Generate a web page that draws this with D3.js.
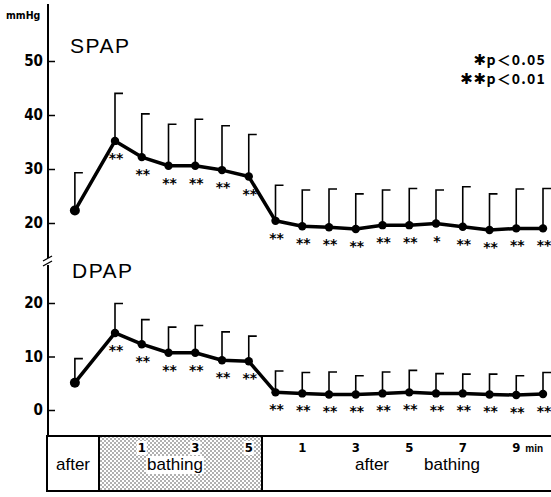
<!DOCTYPE html>
<html><head><meta charset="utf-8">
<script src="https://cdn.jsdelivr.net/npm/d3@7"></script>
<style>body{margin:0;background:#fff}svg{display:block}</style>
</head><body>
<script>
// ---- data ----
const slots = [-1.5, 0,1,2,3,4,5, 6,7,8,9,10,11,12,13,14,15,16];
const spapMean  = [22.3, 35.2,32.2,30.6,30.6,29.8,28.6, 20.4,19.4,19.2,18.9,19.6,19.6,19.9,19.3,18.7,19.0,19.0];
const spapUpper = [29.3, 44.0,40.2,38.3,39.2,38.0,36.4, 27.0,26.1,26.3,25.4,26.1,26.4,26.1,26.7,25.4,26.3,26.4];
const spapSig   = ["", "**","**","**","**","**","**", "**","**","**","**","**","**","*","**","**","**","**"];
const dpapMean  = [5.1, 14.4,12.3,10.7,10.7,9.3,9.1, 3.3,3.1,2.9,2.9,3.1,3.3,3.1,3.1,2.9,2.8,3.0];
const dpapUpper = [9.6, 19.9,16.9,15.5,15.8,14.6,13.8, 7.3,7.0,7.1,6.4,7.1,7.4,6.8,6.7,6.7,6.4,7.0];
const dpapSig   = ["", "**","**","**","**","**","**", "**","**","**","**","**","**","**","**","**","**","**"];
const spapTicks = [20,30,40,50];
const dpapTicks = [0,10,20];
const bathTicks = [1,3,5];
const afterTicks = [1,3,5,7,9];
const legendStars = ["✱","✱✱"];
const legendText = ["p＜0.05","p＜0.01"];

const W=551,H=497;
const svg=d3.select("body").append("svg").attr("width",W).attr("height",H);
const defs=svg.append("defs");
const pat=defs.append("pattern").attr("id","dots").attr("patternUnits","userSpaceOnUse").attr("width",4).attr("height",4);
pat.append("circle").attr("cx",1).attr("cy",1).attr("r",0.7).attr("fill","#222");
pat.append("circle").attr("cx",3).attr("cy",3).attr("r",0.7).attr("fill","#222");

const axX=48;
const x=d3.scaleLinear().domain([0,16]).range([115,543]);
const yS=d3.scaleLinear().domain([20,50]).range([223,61]);
const yD=d3.scaleLinear().domain([0,20]).range([410,303]);
const numFont='"DejaVu Sans Condensed","DejaVu Sans",sans-serif';
const txtFont='"Liberation Sans", Arial, sans-serif';

// axis line with break
svg.append("line").attr("x1",axX).attr("x2",axX).attr("y1",4).attr("y2",258).attr("stroke","#000").attr("stroke-width",2);
svg.append("line").attr("x1",axX).attr("x2",axX).attr("y1",265).attr("y2",436).attr("stroke","#000").attr("stroke-width",2);
svg.append("line").attr("x1",43).attr("y1",261).attr("x2",52).attr("y2",256).attr("stroke","#000").attr("stroke-width",1.3);
svg.append("line").attr("x1",43).attr("y1",266).attr("x2",52).attr("y2",261).attr("stroke","#000").attr("stroke-width",1.3);

function yAxis(scale,ticks){
  const g=svg.append("g").attr("transform",`translate(${axX},0)`)
    .call(d3.axisLeft(scale).tickValues(ticks).tickSize(-7).tickPadding(5).tickFormat(d3.format("d")));
  g.select(".domain").remove();
  g.selectAll(".tick line").attr("stroke","#000").attr("stroke-width",1.5);
  g.selectAll(".tick text").attr("font-family",numFont).attr("font-weight","bold").attr("font-size",15).attr("fill","#000");
}
yAxis(yS,spapTicks);
yAxis(yD,dpapTicks);

svg.append("text").attr("x",6).attr("y",19).text("mmHg").attr("font-family",numFont).attr("font-weight","bold").attr("font-size",10.5);
svg.append("text").attr("x",70).attr("y",53).text("SPAP").attr("font-family",txtFont).attr("font-size",21).attr("letter-spacing",1.5);
svg.append("text").attr("x",72).attr("y",278).text("DPAP").attr("font-family",txtFont).attr("font-size",21).attr("letter-spacing",1.5);

const leg=svg.selectAll(".leg").data(legendText).join("text")
  .attr("x",546).attr("y",(d,i)=>65+i*19).attr("text-anchor","end")
  .attr("font-family",'"Noto Sans CJK JP",sans-serif').attr("font-weight","bold").attr("font-size",14);
leg.append("tspan").attr("font-family","DejaVu Sans, sans-serif").attr("font-size",15).attr("letter-spacing",0.5).text((d,i)=>legendStars[i]);
leg.append("tspan").attr("letter-spacing",1.2).text(d=>d);

function series(mean,upper,sig,y){
  const g=svg.append("g");
  g.selectAll(".eb").data(slots).join("path")
    .attr("d",(s,i)=>`M${x(s)},${y(mean[i])}V${y(upper[i])}H${x(s)+8}`)
    .attr("fill","none").attr("stroke","#000").attr("stroke-width",1.6);
  const line=d3.line().x((s)=>x(s)).y((s,i)=>y(mean[i]));
  g.append("path").attr("d",line(slots)).attr("fill","none").attr("stroke","#000").attr("stroke-width",3.5).attr("stroke-linejoin","round");
  g.selectAll(".pt").data(slots).join("circle")
    .attr("cx",s=>x(s)).attr("cy",(s,i)=>y(mean[i])).attr("r",(s,i)=>i===0?5:4.2).attr("fill","#000");
  g.selectAll(".sig").data(slots).join("text")
    .attr("x",s=>x(s)+1).attr("y",(s,i)=>y(mean[i])+22).attr("text-anchor","middle")
    .attr("font-family","DejaVu Sans, sans-serif").attr("font-weight","bold").attr("font-size",14)
    .attr("fill","#000").text((s,i)=>sig[i]);
}
series(spapMean,spapUpper,spapSig,yS);
series(dpapMean,dpapUpper,dpapSig,yD);

// table
const tTop=436,tBot=491,divA=99,divB=262;
svg.append("rect").attr("x",divA).attr("y",tTop).attr("width",divB-divA).attr("height",tBot-tTop).attr("fill","url(#dots)");
const bg=svg.append("g");
svg.append("line").attr("x1",axX-2).attr("x2",W).attr("y1",tTop).attr("y2",tTop).attr("stroke","#000").attr("stroke-width",2);
svg.append("line").attr("x1",axX-2).attr("x2",W).attr("y1",tBot).attr("y2",tBot).attr("stroke","#000").attr("stroke-width",2);
[axX-1,divA,divB].forEach(v=>svg.append("line").attr("x1",v).attr("x2",v).attr("y1",tTop).attr("y2",tBot).attr("stroke","#000").attr("stroke-width",2));

function whiteBehind(sel){
  sel.each(function(){const b=this.getBBox();bg.append("rect").attr("x",b.x-1).attr("y",b.y+1).attr("width",b.width+2).attr("height",b.height-1).attr("fill","#fff");});
}
const bt=svg.append("text").attr("x",175).attr("y",470).attr("text-anchor","middle").attr("font-family",txtFont).attr("font-size",17).text("bathing");
whiteBehind(bt);
const bnum=svg.selectAll(".bt").data(bathTicks).join("text").attr("x",d=>x(d)).attr("y",452).attr("text-anchor","middle")
  .attr("font-family",numFont).attr("font-weight","bold").attr("font-size",13).text(d=>d);
whiteBehind(bnum);
svg.selectAll(".at").data(afterTicks).join("text").attr("x",d=>x(d+6)).attr("y",452).attr("text-anchor","middle")
  .attr("font-family",numFont).attr("font-weight","bold").attr("font-size",13).text(d=>d);
svg.append("text").attr("x",x(15)+9).attr("y",452).attr("font-family",txtFont).attr("font-weight","bold").attr("font-size",10).text("min");
svg.append("text").attr("x",73).attr("y",470).attr("text-anchor","middle").attr("font-family",txtFont).attr("font-size",17).text("after");
svg.append("text").attr("x",372).attr("y",470).attr("text-anchor","middle").attr("font-family",txtFont).attr("font-size",17).text("after");
svg.append("text").attr("x",452).attr("y",470).attr("text-anchor","middle").attr("font-family",txtFont).attr("font-size",17).text("bathing");
</script>
</body></html>
